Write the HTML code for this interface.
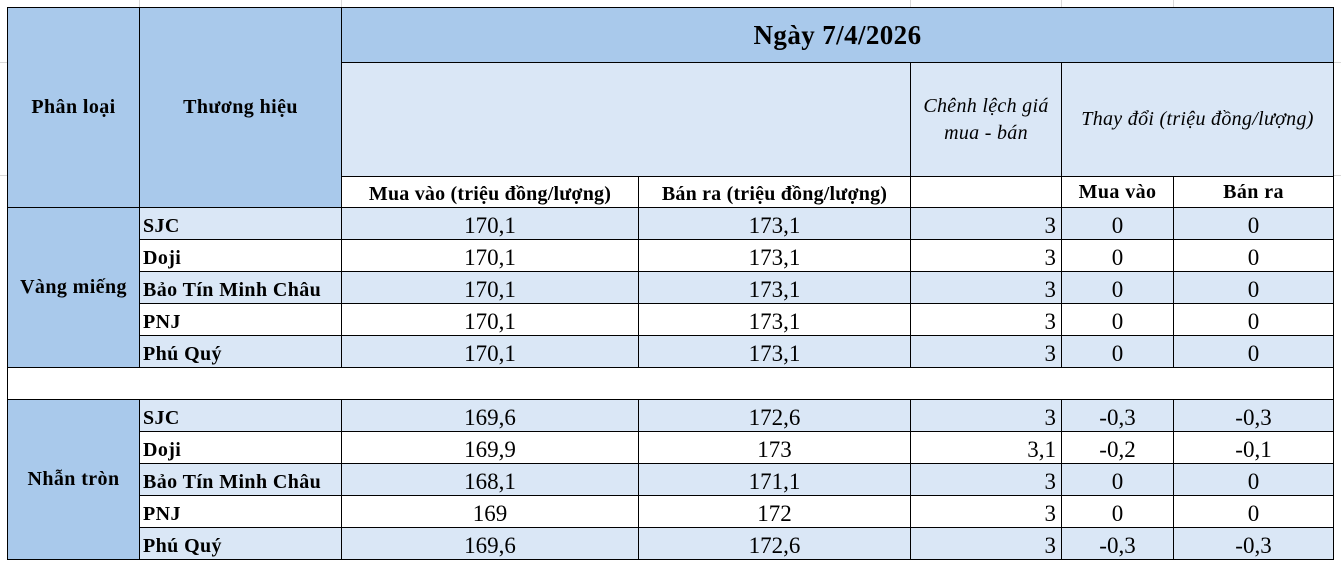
<!DOCTYPE html>
<html><head><meta charset="utf-8"><style>
body{margin:0;width:1341px;height:567px;background:#fff;position:relative;overflow:hidden;font-family:"Liberation Serif",serif;}
.g{position:absolute;background:#d9d9d9}
table{position:absolute;left:7px;top:7px;border-collapse:collapse;table-layout:fixed;}
td{border:1.5px solid #000;padding:0;color:#000;overflow:hidden;white-space:nowrap;}
.d{background:#a9c9eb}
.l{background:#dae7f6}
.w{background:#fff}
.b{font-weight:bold;letter-spacing:0.4px}
.c{text-align:center}
.br{font-weight:bold;font-size:20px;letter-spacing:0.4px;padding-left:3px;vertical-align:bottom;line-height:26px}
.v{font-size:23px;text-align:center;vertical-align:bottom;line-height:26px}
.vr{font-size:23px;text-align:right;padding-right:5px;vertical-align:bottom;line-height:26px}
.it{font-style:italic;font-size:20px;text-align:center;line-height:27px;letter-spacing:0.3px}
tr.s td{height:31px}
</style></head><body>
<div class="g" style="left:139px;top:0;width:1px;height:7px"></div>
<div class="g" style="left:341px;top:0;width:1px;height:7px"></div>
<div class="g" style="left:910px;top:0;width:1px;height:7px"></div>
<div class="g" style="left:1061px;top:0;width:1px;height:7px"></div>
<div class="g" style="left:1173px;top:0;width:1px;height:7px"></div>
<div class="g" style="left:0;top:62px;width:7px;height:1px"></div>
<div class="g" style="left:0;top:175px;width:7px;height:1px"></div>
<div class="g" style="left:1334px;top:62px;width:7px;height:1px"></div>
<div class="g" style="left:1334px;top:175px;width:7px;height:1px"></div>
<table>
<colgroup><col style="width:132px"><col style="width:202px"><col style="width:297px"><col style="width:272px"><col style="width:151px"><col style="width:112px"><col style="width:160px"></colgroup>
<tr style="height:55px"><td class="d b c" rowspan="3" style="font-size:20px">Phân loại</td><td class="d b c" rowspan="3" style="font-size:20px">Thương hiệu</td><td class="d b c" colspan="5" style="font-size:27px">Ngày 7/4/2026</td></tr>
<tr style="height:114px"><td class="l" colspan="2"></td><td class="l it">Chênh lệch giá<br>mua - bán</td><td class="l it" colspan="2">Thay đổi (triệu đồng/lượng)</td></tr>
<tr style="height:31px"><td class="w b c" style="font-size:20px;vertical-align:bottom;line-height:26px;letter-spacing:0.2px">Mua vào (triệu đồng/lượng)</td><td class="w b c" style="font-size:20px;vertical-align:bottom;line-height:26px;letter-spacing:0.2px">Bán ra (triệu đồng/lượng)</td><td class="w"></td><td class="w b c" style="font-size:20px">Mua vào</td><td class="w b c" style="font-size:20px">Bán ra</td></tr>
<tr class="s"><td class="d b c" rowspan="5" style="font-size:20px">Vàng miếng</td><td class="l br">SJC</td><td class="l v">170,1</td><td class="l v">173,1</td><td class="l vr">3</td><td class="l v">0</td><td class="l v">0</td></tr>
<tr class="s"><td class="w br">Doji</td><td class="w v">170,1</td><td class="w v">173,1</td><td class="w vr">3</td><td class="w v">0</td><td class="w v">0</td></tr>
<tr class="s"><td class="l br">Bảo Tín Minh Châu</td><td class="l v">170,1</td><td class="l v">173,1</td><td class="l vr">3</td><td class="l v">0</td><td class="l v">0</td></tr>
<tr class="s"><td class="w br">PNJ</td><td class="w v">170,1</td><td class="w v">173,1</td><td class="w vr">3</td><td class="w v">0</td><td class="w v">0</td></tr>
<tr class="s"><td class="l br">Phú Quý</td><td class="l v">170,1</td><td class="l v">173,1</td><td class="l vr">3</td><td class="l v">0</td><td class="l v">0</td></tr>
<tr class="s"><td class="w" colspan="7"></td></tr>
<tr class="s"><td class="d b c" rowspan="5" style="font-size:20px">Nhẫn tròn</td><td class="l br">SJC</td><td class="l v">169,6</td><td class="l v">172,6</td><td class="l vr">3</td><td class="l v">-0,3</td><td class="l v">-0,3</td></tr>
<tr class="s"><td class="w br">Doji</td><td class="w v">169,9</td><td class="w v">173</td><td class="w vr">3,1</td><td class="w v">-0,2</td><td class="w v">-0,1</td></tr>
<tr class="s"><td class="l br">Bảo Tín Minh Châu</td><td class="l v">168,1</td><td class="l v">171,1</td><td class="l vr">3</td><td class="l v">0</td><td class="l v">0</td></tr>
<tr class="s"><td class="w br">PNJ</td><td class="w v">169</td><td class="w v">172</td><td class="w vr">3</td><td class="w v">0</td><td class="w v">0</td></tr>
<tr class="s"><td class="l br">Phú Quý</td><td class="l v">169,6</td><td class="l v">172,6</td><td class="l vr">3</td><td class="l v">-0,3</td><td class="l v">-0,3</td></tr>
</table>
</body></html>
